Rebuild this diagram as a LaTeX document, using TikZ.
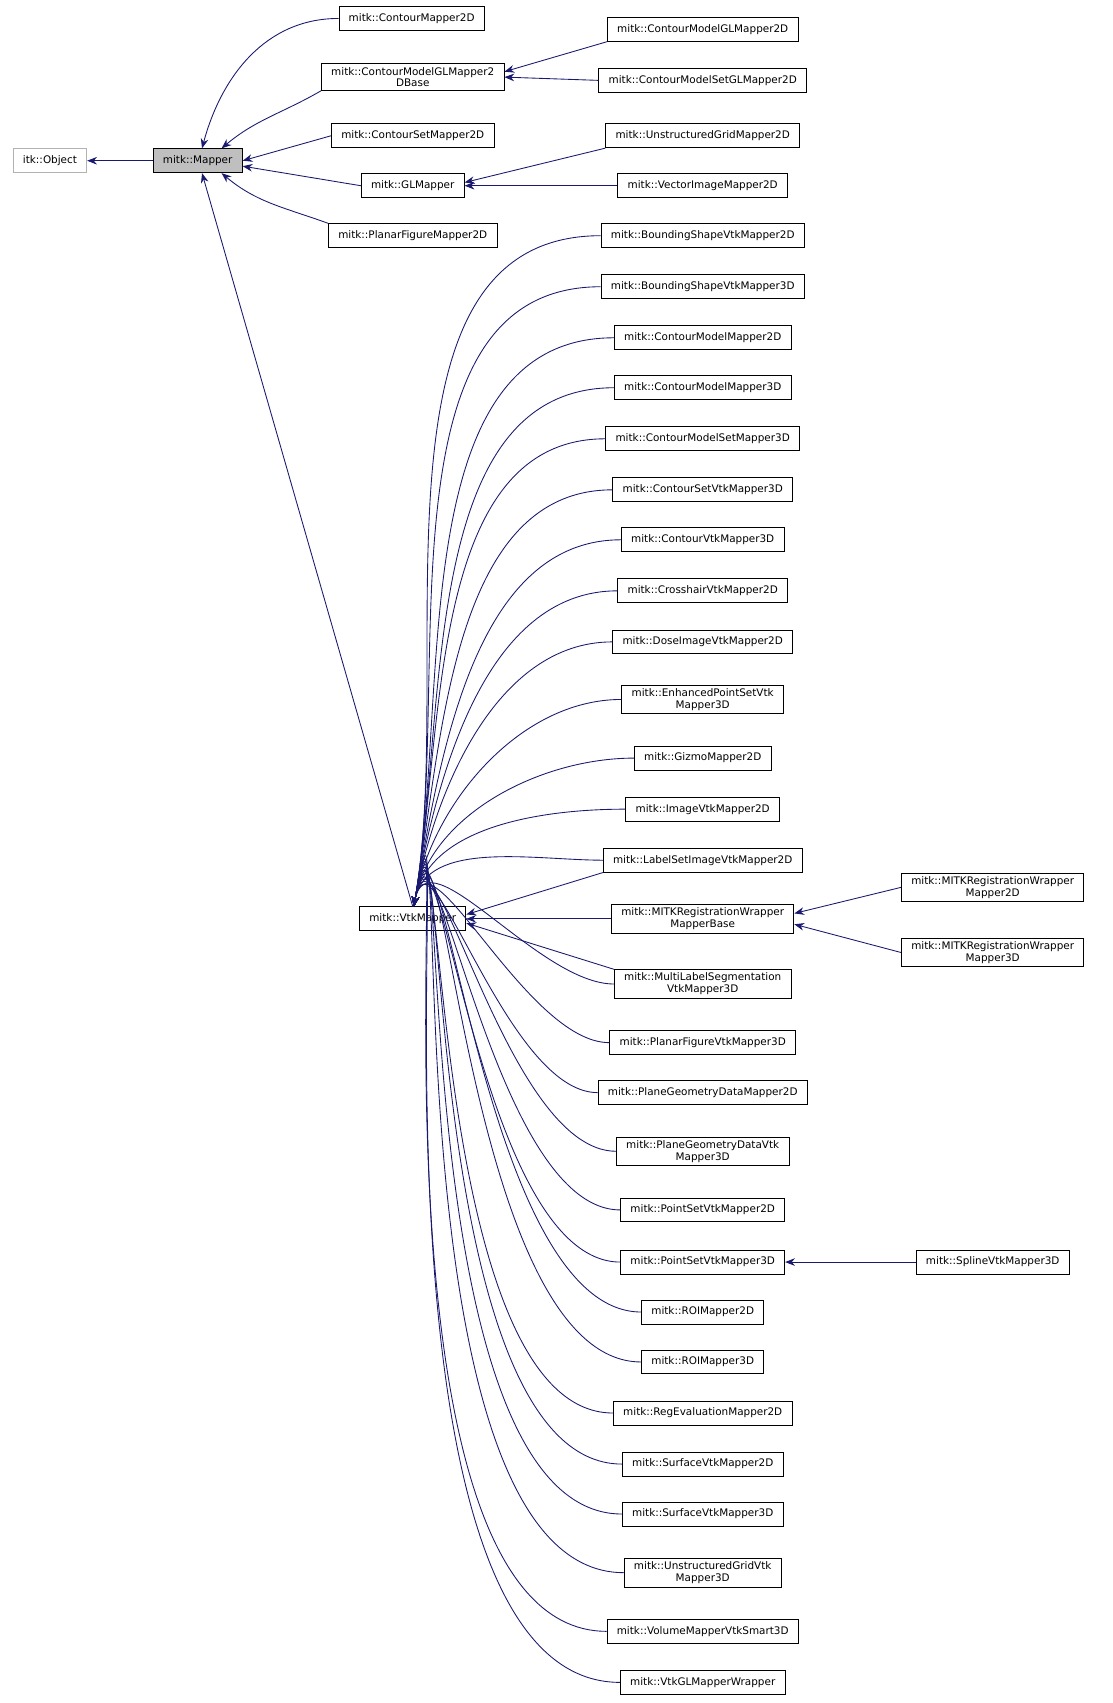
\documentclass[tikz,border=0pt]{standalone}
\usepackage{fontspec}
\setmainfont{DejaVu Sans}
\usetikzlibrary{arrows.meta}
\definecolor{navy}{RGB}{25,25,112}
\begin{document}
\begin{tikzpicture}[x=1pt,y=-1pt,
  box/.style={draw=black,fill=white,font=\fontsize{9.6}{11}\selectfont,inner xsep=9pt,inner ysep=3pt,align=center,minimum height=22pt,line width=0.8pt},
  arr/.style={draw=navy,line width=0.8pt,{Stealth[length=9pt,width=7pt]}-}]
\useasboundingbox (0,0) rectangle (1024,1568);
\node[box,draw=gray!60] (obj) at (46,148) {itk::Object};
\node[box,fill=gray!50] (map) at (182,148) {mitk::Mapper};
\node[box] (cm2) at (379,17) {mitk::ContourMapper2D};
\node[box] (cmb) at (380,71) {mitk::ContourModelGLMapper2\\DBase};
\node[box] (csm) at (380,125) {mitk::ContourSetMapper2D};
\node[box] (glm) at (380,171) {mitk::GLMapper};
\node[box] (pfm) at (380,217) {mitk::PlanarFigureMapper2D};
\node[box] (vtk) at (380,846) {mitk::VtkMapper};
\node[box] (cmgl) at (647,27) {mitk::ContourModelGLMapper2D};
\node[box] (cmsgl) at (647,74) {mitk::ContourModelSetGLMapper2D};
\node[box] (ugm) at (647,125) {mitk::UnstructuredGridMapper2D};
\node[box] (vim) at (647,171) {mitk::VectorImageMapper2D};
\foreach \n/\y/\t in {
 a/217/{mitk::BoundingShapeVtkMapper2D},
 b/264/{mitk::BoundingShapeVtkMapper3D},
 c/311/{mitk::ContourModelMapper2D},
 d/357/{mitk::ContourModelMapper3D},
 e/404/{mitk::ContourModelSetMapper3D},
 f/451/{mitk::ContourSetVtkMapper3D},
 g/497/{mitk::ContourVtkMapper3D},
 h/544/{mitk::CrosshairVtkMapper2D},
 i/591/{mitk::DoseImageVtkMapper2D},
 j/644/{mitk::EnhancedPointSetVtk\\Mapper3D},
 k/698/{mitk::GizmoMapper2D},
 l/745/{mitk::ImageVtkMapper2D},
 m/792/{mitk::LabelSetImageVtkMapper2D},
 o/906/{mitk::MultiLabelSegmentation\\VtkMapper3D},
 p/960/{mitk::PlanarFigureVtkMapper3D},
 q/1006/{mitk::PlaneGeometryDataMapper2D},
 r/1060/{mitk::PlaneGeometryDataVtk\\Mapper3D},
 s/1114/{mitk::PointSetVtkMapper2D},
 t/1162/{mitk::PointSetVtkMapper3D},
 u/1208/{mitk::ROIMapper2D},
 v/1254/{mitk::ROIMapper3D},
 w/1301/{mitk::RegEvaluationMapper2D},
 x/1348/{mitk::SurfaceVtkMapper2D},
 y/1394/{mitk::SurfaceVtkMapper3D},
 z/1448/{mitk::UnstructuredGridVtk\\Mapper3D},
 aa/1502/{mitk::VolumeMapperVtkSmart3D},
 ab/1549/{mitk::VtkGLMapperWrapper}}{
  \node[box] (\n) at (647,\y) {\t};
  \draw[arr] ([xshift=1pt]vtk.north) to[out=80,in=180,looseness=0.9] (\n.west);
}
\node[box] (mrb) at (647,846) {mitk::MITKRegistrationWrapper\\MapperBase};
\node[box] (mr2) at (914,817) {mitk::MITKRegistrationWrapper\\Mapper2D};
\node[box] (mr3) at (914,877) {mitk::MITKRegistrationWrapper\\Mapper3D};
\node[box] (spl) at (914,1162) {mitk::SplineVtkMapper3D};
\draw[arr] (obj) -- (map);
\draw[arr] ([xshift=4pt]map.north) to[out=75,in=180] (cm2.west);
\draw[arr] ([xshift=22pt]map.north) to[out=40,in=210] (cmb.south west);
\draw[arr] (map.east) -- (csm.west);
\draw[arr] ([yshift=-5pt]map.east) -- (glm.west);
\draw[arr] ([xshift=22pt]map.south) to[out=-40,in=160] (pfm.north west);
\draw[arr] ([xshift=4pt]map.south) -- (vtk.north);
\draw[arr] ([yshift=5pt]cmb.east) -- (cmgl.south west);
\draw[arr] (cmb.east) -- (cmsgl.west);
\draw[arr] ([yshift=3pt]glm.east) -- (ugm.south west);
\draw[arr] (glm.east) -- (vim.west);
\draw[arr] (vtk.east) -- (mrb.west);
\draw[arr] ([yshift=4pt]vtk.east) -- (m.south west);
\draw[arr] ([yshift=-4pt]vtk.east) -- (o.north west);
\draw[arr] ([yshift=5pt]mrb.east) -- (mr2.west);
\draw[arr] ([yshift=-5pt]mrb.east) -- (mr3.west);
\draw[arr] (t.east) -- (spl.west);
\end{tikzpicture}
\end{document}
